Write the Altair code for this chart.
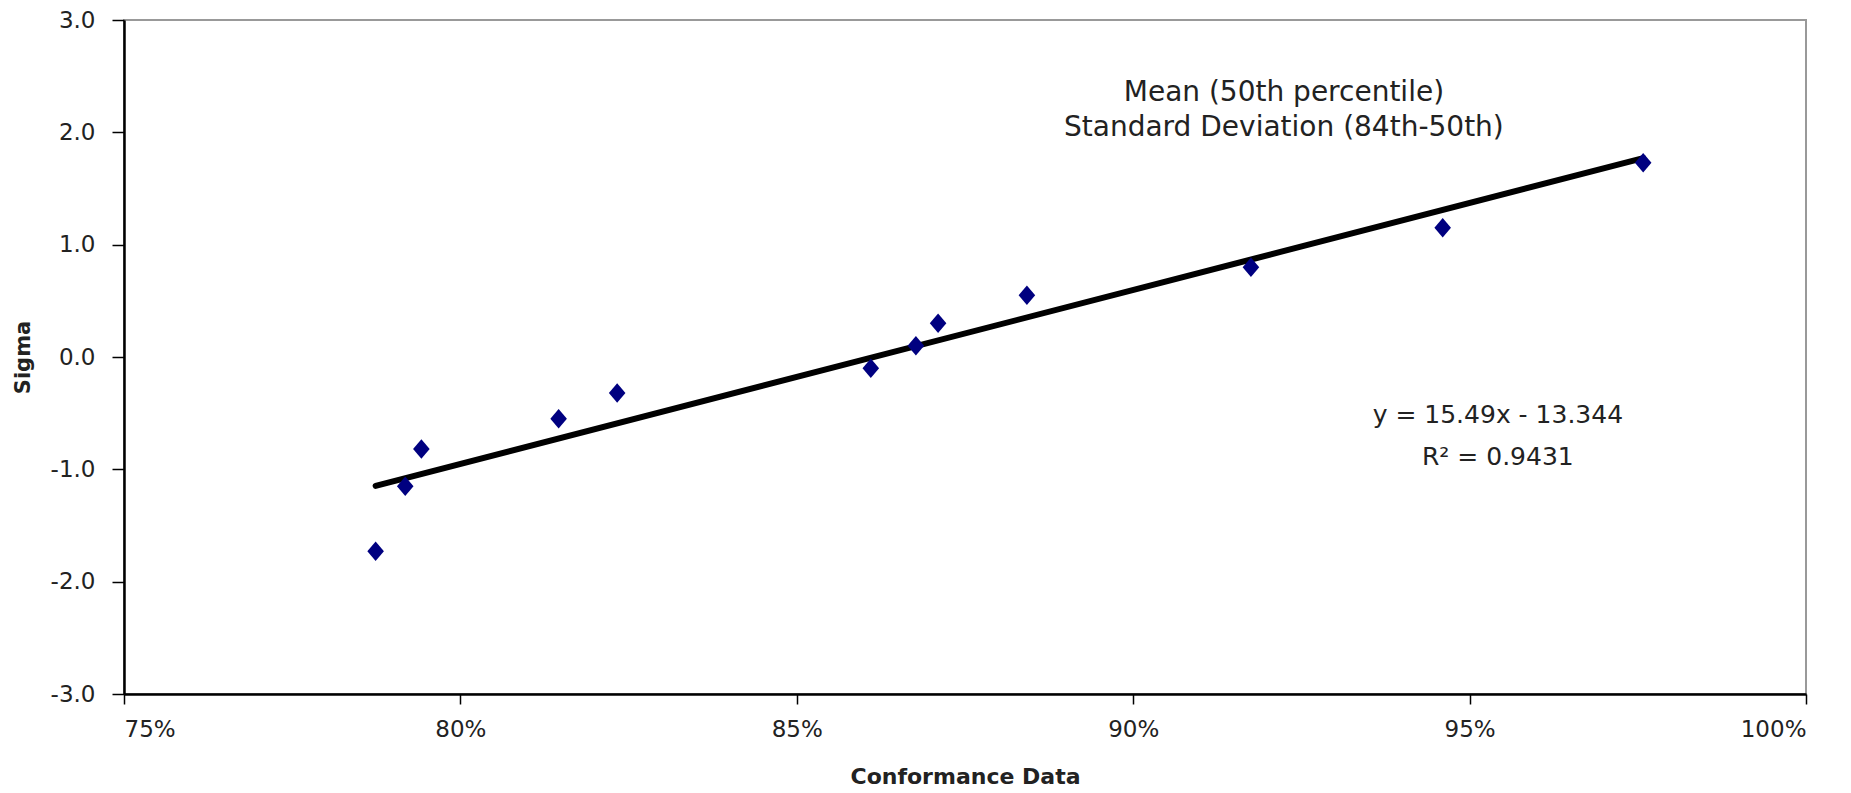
import altair as alt
import pandas as pd

# Data
conformance = [0.7874, 0.7918, 0.7942, 0.8146, 0.8233, 0.8610,
               0.8677, 0.8710, 0.8842, 0.9175, 0.9460, 0.9758]
sigma = [-1.73, -1.15, -0.82, -0.55, -0.32, -0.10,
         0.10, 0.30, 0.55, 0.80, 1.15, 1.73]

# Trend line end points (y = 15.49x - 13.344 over the data range)
trend_x = [0.7874, 0.9758]
trend_y = [-1.147, 1.771]

x_ticks = [0.75, 0.80, 0.85, 0.90, 0.95, 1.00]
y_ticks = [-3.0, -2.0, -1.0, 0.0, 1.0, 2.0, 3.0]

title_note = ["Mean (50th percentile)", "Standard Deviation (84th-50th)"]
title_note_x = [0.9224]
title_note_y = [2.35]
eq_note = ["y = 15.49x - 13.344", "R\u00b2 = 0.9431"]
eq_note_x = [0.9542]
eq_note_y = [-0.52]

pts = pd.DataFrame({"x": conformance, "y": sigma})
trend = pd.DataFrame({"x": trend_x, "y": trend_y})
note1 = pd.DataFrame({"t": ["\n".join(title_note)], "x": title_note_x, "y": title_note_y})
note2 = pd.DataFrame({"t": ["\n".join(eq_note)], "x": eq_note_x, "y": eq_note_y})

FONT = "DejaVu Sans, Verdana, sans-serif"

xs = alt.Scale(domain=[0.75, 1.0], nice=False, zero=False)
ys = alt.Scale(domain=[-3, 3], nice=False, zero=False)

xenc = alt.X("x:Q", scale=xs, title="Conformance Data",
             axis=alt.Axis(values=x_ticks, format=".0%", grid=False,
                           domainColor="#000", domainWidth=2.5,
                           tickColor="#000", tickWidth=1.5, tickSize=10,
                           labelFont=FONT, labelFontSize=23,
                           labelColor="#222", labelPadding=14,
                           titleFont=FONT, titleFontSize=22, titleFontWeight="bold",
                           titleColor="#222", titlePadding=25))
yenc = alt.Y("y:Q", scale=ys, title="Sigma",
             axis=alt.Axis(values=y_ticks, grid=False,
                           labelExpr="(datum.value < 0 ? '-' : '') + format(abs(datum.value), '.1f')",
                           domainColor="#000", domainWidth=2.5,
                           tickColor="#000", tickWidth=1.5, tickSize=12,
                           labelFont=FONT, labelFontSize=23,
                           labelColor="#222", labelPadding=17,
                           titleFont=FONT, titleFontSize=21, titleFontWeight="bold",
                           titleColor="#222", titlePadding=17))

line = alt.Chart(trend).mark_line(color="#000", strokeWidth=6, strokeCap="round").encode(
    x=xenc, y=yenc)

points = alt.Chart(pts).mark_point(
    shape="M0,-1L0.85,0L0,1L-0.85,0Z", filled=True, color="#000080",
    opacity=1, size=380).encode(x="x:Q", y="y:Q")

text1 = alt.Chart(note1).mark_text(font=FONT, fontSize=28, color="#222",
                                   align="center", baseline="middle",
                                   lineBreak="\n", lineHeight=35).encode(
    x="x:Q", y="y:Q", text="t:N")

text2 = alt.Chart(note2).mark_text(font=FONT, fontSize=25, color="#222",
                                   align="center", baseline="middle",
                                   lineBreak="\n", lineHeight=42).encode(
    x="x:Q", y="y:Q", text="t:N")

chart = alt.layer(line, points, text1, text2).properties(
    width=1682, height=674, padding={"left": 124, "top": 20, "right": 45, "bottom": 99}
).configure(autosize=alt.AutoSizeParams(type="none")).configure_view(
    stroke="#999", strokeWidth=2
)

chart.save("out.html", embed_options={"renderer": "svg", "actions": False})
